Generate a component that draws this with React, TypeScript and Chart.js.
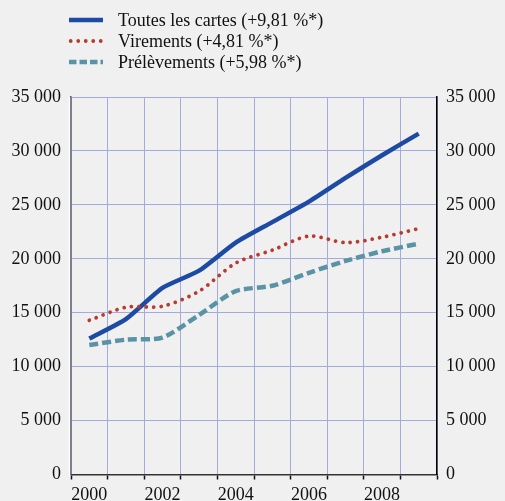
import { useEffect, useRef } from 'react';
import { Chart, registerables } from 'chart.js';

Chart.register(...registerables);

const years = ['2000', '2001', '2002', '2003', '2004', '2005', '2006', '2007', '2008', '2009'];
const cartes = [12600, 14400, 17300, 18900, 21500, 23400, 25300, 27500, 29600, 31600];
const virements = [14300, 15500, 15600, 17000, 19600, 20800, 22100, 21500, 22000, 22800];
const prelevements = [12000, 12500, 12700, 14800, 17000, 17500, 18700, 19800, 20700, 21400];
const legendLabels = ['Toutes les cartes (+9,81 %*)', 'Virements (+4,81 %*)', 'Prélèvements (+5,98 %*)'];
const yMin = 0;
const yMax = 35000;
const yStep = 5000;

const BLUE = '#1d4aa3';
const RED = '#b83b2f';
const TEAL = '#5b93a6';
const GRID = '#a3aade';
const BG = '#f0f0f0';
const FONT = '"Liberation Serif", "Times New Roman", serif';

const fmt = (v: number) => String(v).replace(/\B(?=(\d{3})+(?!\d))/g, ' ');

export default function App() {
  const ref = useRef<HTMLCanvasElement | null>(null);

  useEffect(() => {
    document.body.style.margin = '0';
    document.body.style.background = BG;
    const canvas = ref.current;
    if (!canvas) return;

    const legendPlugin = {
      id: 'customLegend',
      beforeDraw(chart: any) {
        const ctx = chart.ctx;
        ctx.save();
        ctx.fillStyle = BG;
        ctx.fillRect(0, 0, chart.width, chart.height);
        ctx.restore();
      },
      afterDraw(chart: any) {
        const ctx = chart.ctx;
        const { left, bottom, top } = chart.chartArea;
        ctx.save();
        ctx.strokeStyle = '#ffffff';
        ctx.lineWidth = 1.5;
        ctx.beginPath();
        ctx.moveTo(left - 1.5, top);
        ctx.lineTo(left - 1.5, bottom + 2);
        ctx.stroke();

        const rows = [
          { y: 20, color: BLUE, width: 4.5, dash: [] as number[], cap: 'butt', x0: 69, x1: 103 },
          { y: 41, color: RED, width: 3.8, dash: [0.01, 7.5], cap: 'round', x0: 70.7, x1: 102 },
          { y: 62, color: TEAL, width: 4.5, dash: [7.5, 3], cap: 'butt', x0: 69, x1: 103 },
        ];
        rows.forEach((r, i) => {
          ctx.strokeStyle = r.color;
          ctx.lineWidth = r.width;
          ctx.setLineDash(r.dash);
          ctx.lineCap = r.cap;
          ctx.beginPath();
          ctx.moveTo(r.x0, r.y);
          ctx.lineTo(r.x1, r.y);
          ctx.stroke();
          ctx.setLineDash([]);
          ctx.fillStyle = '#111111';
          ctx.font = '18px ' + FONT;
          ctx.textBaseline = 'middle';
          ctx.textAlign = 'left';
          ctx.fillText(legendLabels[i], 118, r.y + 1);
        });
        ctx.restore();
      },
    };

    const chart = new Chart(canvas, {
      type: 'line',
      data: {
        labels: years,
        datasets: [
          {
            label: legendLabels[2],
            data: prelevements,
            borderColor: TEAL,
            borderWidth: 4.5,
            borderDash: [9, 4],
            pointRadius: 0,
            tension: 0.25,
            fill: false,
          },
          {
            label: legendLabels[1],
            data: virements,
            borderColor: RED,
            borderWidth: 3.8,
            borderDash: [0.01, 7.4],
            borderCapStyle: 'round',
            pointRadius: 0,
            tension: 0.3,
            fill: false,
          },
          {
            label: legendLabels[0],
            data: cartes,
            borderColor: BLUE,
            borderWidth: 4.5,
            pointRadius: 0,
            tension: 0.2,
            fill: false,
          },
        ],
      },
      options: {
        responsive: false,
        animation: false,
        layout: { padding: { top: 97, left: 0, right: 0, bottom: 0 } },
        plugins: {
          legend: { display: false },
          tooltip: { enabled: false },
        },
        scales: {
          x: {
            type: 'category',
            offset: true,
            grid: {
              offset: true,
              color: GRID,
              lineWidth: 1,
              tickColor: '#111111',
              tickLength: 5,
              tickWidth: 1.5,
            },
            border: { color: '#333333', width: 1.5 },
            ticks: {
              autoSkip: false,
              maxRotation: 0,
              padding: 5,
              color: '#111111',
              font: { family: FONT, size: 18 },
              callback: (_v: any, idx: number) => (idx % 2 === 0 ? years[idx] : ''),
            },
            afterFit: (scale: any) => {
              scale.height = 26.5;
            },
          },
          y: {
            position: 'left',
            min: yMin,
            max: yMax,
            grid: { color: GRID, lineWidth: 1, drawTicks: false },
            border: { color: '#555555', width: 1.5 },
            ticks: {
              stepSize: yStep,
              padding: 10,
              color: '#111111',
              font: { family: FONT, size: 18 },
              callback: (v: any) => fmt(Number(v)),
            },
            afterFit: (scale: any) => {
              scale.width = 71;
            },
          },
          y2: {
            position: 'right',
            min: yMin,
            max: yMax,
            grid: { drawOnChartArea: false, drawTicks: false },
            border: { color: '#000000', width: 1.5 },
            ticks: {
              stepSize: yStep,
              padding: 9,
              color: '#111111',
              font: { family: FONT, size: 18 },
              callback: (v: any) => fmt(Number(v)),
            },
            afterFit: (scale: any) => {
              scale.width = 68;
            },
          },
        },
      },
      plugins: [legendPlugin],
    } as any);

    return () => chart.destroy();
  }, []);

  return (
    <div style={{ width: 505, height: 501, background: BG }}>
      <canvas ref={ref} width={505} height={501} style={{ display: 'block', width: 505, height: 501 }} />
    </div>
  );
}
